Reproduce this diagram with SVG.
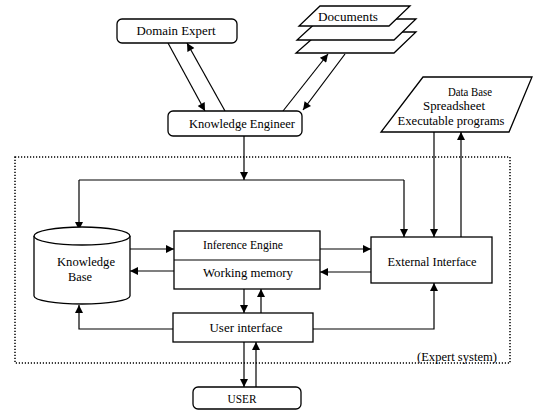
<svg xmlns="http://www.w3.org/2000/svg" width="552" height="410" viewBox="0 0 552 410" font-family="'Liberation Serif', 'DejaVu Serif', serif">
<style>
.box{fill:#fff;stroke:#000;stroke-width:1.3}
.ln{fill:none;stroke:#000;stroke-width:1.2}
.ar{fill:none;stroke:#000;stroke-width:1.2;marker-end:url(#ah)}
text{font-family:'Liberation Serif','DejaVu Serif',serif;font-size:12.5px;fill:#000;text-anchor:middle}
</style>
<defs>
<marker id="ah" viewBox="0 0 10 10" refX="10" refY="5" markerWidth="10" markerHeight="8" orient="auto" markerUnits="userSpaceOnUse">
<path d="M0,0 L10,5 L0,10 z" fill="#000"/>
</marker>
</defs>
<rect x="0" y="0" width="552" height="410" fill="#fff"/>
<g id="expert-system-boundary">
<rect x="15" y="157" width="495" height="206" fill="none" stroke="#000" stroke-width="1.5" stroke-dasharray="1.2,1.8"/>
<text x="457" y="361" textLength="80" lengthAdjust="spacingAndGlyphs">(Expert system)</text>
</g>
<g id="connectors">
<line class="ar" x1="168" y1="43" x2="205" y2="111"/>
<line class="ar" x1="225" y1="111" x2="187" y2="43"/>
<line class="ar" x1="345" y1="54" x2="303" y2="110"/>
<line class="ar" x1="283" y1="111" x2="328" y2="54"/>
<line class="ar" x1="244" y1="136" x2="244" y2="180"/>
<polyline class="ln" points="79,180 404,180"/>
<line class="ar" x1="79" y1="180" x2="79" y2="230"/>
<line class="ar" x1="404" y1="180" x2="404" y2="237"/>
<line class="ar" x1="434" y1="132" x2="434" y2="237"/>
<line class="ar" x1="461" y1="237" x2="461" y2="132"/>
<line class="ar" x1="130" y1="249" x2="174" y2="249"/>
<line class="ar" x1="174" y1="271" x2="130" y2="271"/>
<line class="ar" x1="320" y1="249" x2="371" y2="249"/>
<line class="ar" x1="371" y1="272" x2="320" y2="272"/>
<line class="ar" x1="244" y1="289" x2="244" y2="313"/>
<line class="ar" x1="261" y1="313" x2="261" y2="289"/>
<polyline class="ar" points="173,329 79,329 79,305"/>
<polyline class="ar" points="313,329 434,329 434,283"/>
<line class="ar" x1="244" y1="342" x2="244" y2="387"/>
<line class="ar" x1="256" y1="387" x2="256" y2="342"/>
</g>
<g id="domain-expert">
<rect class="box" x="117" y="19" width="120" height="24" rx="5"/>
<text x="176" y="35" textLength="79" lengthAdjust="spacingAndGlyphs">Domain Expert</text>
</g>
<g id="documents">
<polygon class="box" points="320,32 416,32 394,53 296,53"/>
<polygon class="box" points="320,19 416,19 394,40 297,40"/>
<polygon class="box" points="320,6 410,6 389,26 299,26"/>
<text x="348" y="21" textLength="60" lengthAdjust="spacingAndGlyphs">Documents</text>
</g>
<g id="knowledge-engineer">
<rect class="box" x="168" y="111" width="134" height="25" rx="5"/>
<text x="242" y="128" textLength="106" lengthAdjust="spacingAndGlyphs">Knowledge Engineer</text>
</g>
<g id="data-sources">
<polygon class="box" points="423,77 532,77 509,132 381,132"/>
<text x="470" y="96" textLength="44" lengthAdjust="spacingAndGlyphs">Data Base</text>
<text x="454" y="110" textLength="62" lengthAdjust="spacingAndGlyphs">Spreadsheet</text>
<text x="451" y="125" textLength="107" lengthAdjust="spacingAndGlyphs">Executable programs</text>
</g>
<g id="knowledge-base">
<path class="box" d="M34,236 L34,296 A48,8 0 0 0 130,296 L130,236"/>
<ellipse class="box" cx="82" cy="236" rx="48" ry="9"/>
<text x="86" y="266" textLength="58" lengthAdjust="spacingAndGlyphs">Knowledge</text>
<text x="80" y="281" textLength="24" lengthAdjust="spacingAndGlyphs">Base</text>
</g>
<g id="inference-engine">
<rect class="box" x="174" y="231" width="146" height="58"/>
<line class="ln" x1="174" y1="260" x2="320" y2="260"/>
<text x="243" y="249" textLength="80" lengthAdjust="spacingAndGlyphs">Inference Engine</text>
<text x="248" y="277" textLength="90" lengthAdjust="spacingAndGlyphs">Working memory</text>
</g>
<g id="external-interface">
<rect class="box" x="371" y="237" width="121" height="46"/>
<text x="432" y="266" textLength="89" lengthAdjust="spacingAndGlyphs">External Interface</text>
</g>
<g id="user-interface">
<rect class="box" x="173" y="313" width="140" height="29"/>
<text x="246" y="332" textLength="73" lengthAdjust="spacingAndGlyphs">User interface</text>
</g>
<g id="user">
<rect class="box" x="193" y="387" width="108" height="22" rx="5"/>
<text x="242" y="403" textLength="29" lengthAdjust="spacingAndGlyphs">USER</text>
</g>
</svg>
